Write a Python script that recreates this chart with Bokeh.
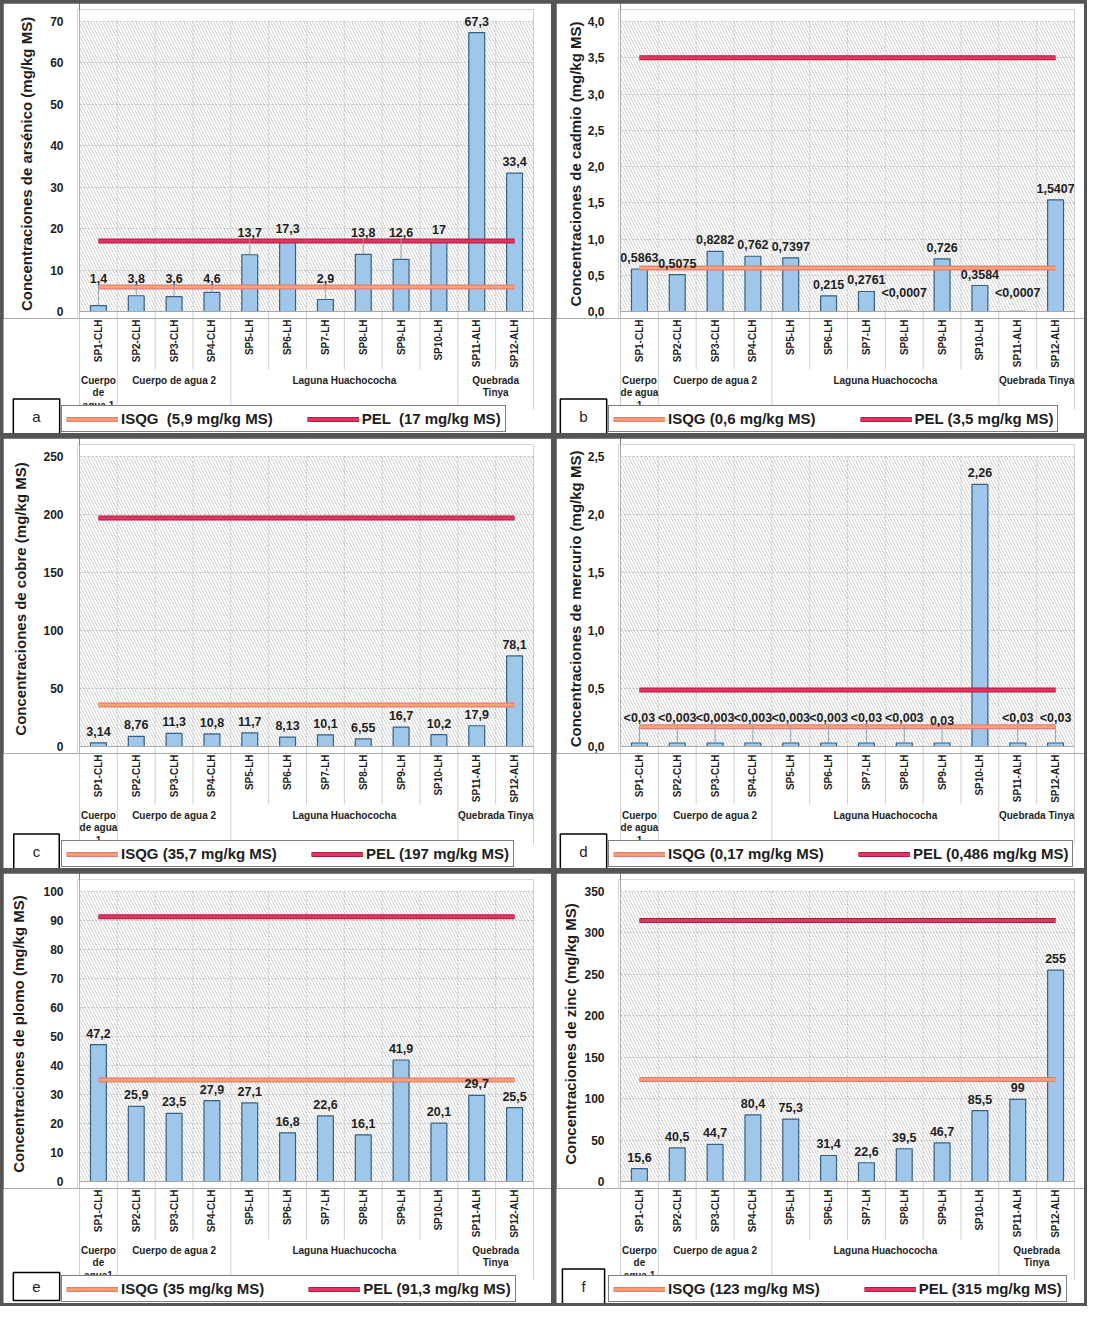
import math
from bokeh.plotting import figure
from bokeh.models import (Range1d, FixedTicker, Label, Legend, LegendItem, ColumnDataSource,
                          Span, Grid)
from bokeh.layouts import column, row
from bokeh.embed import file_html
from bokeh.resources import INLINE
from bokeh.core.properties import value

FONT = "Liberation Sans"

SAMPLES = ["SP1-CLH", "SP2-CLH", "SP3-CLH", "SP4-CLH", "SP5-LH", "SP6-LH",
           "SP7-LH", "SP8-LH", "SP9-LH", "SP10-LH", "SP11-ALH", "SP12-ALH"]
GROUP_SIZES = [1, 3, 6, 2]

# (a) arsénico
AS_VALUES = [1.4, 3.8, 3.6, 4.6, 13.7, 17.3, 2.9, 13.8, 12.6, 17, 67.3, 33.4]
AS_LABELS = ["1,4", "3,8", "3,6", "4,6", "13,7", "17,3", "2,9", "13,8", "12,6", "17", "67,3", "33,4"]
AS_ISQG, AS_PEL = 5.9, 17
AS_TICKS = [0, 10, 20, 30, 40, 50, 60, 70]
AS_TICK_LABELS = ["0", "10", "20", "30", "40", "50", "60", "70"]
AS_GROUPS = ["Cuerpo\nde\nagua 1", "Cuerpo de agua 2", "Laguna Huachococha", "Quebrada\nTinya"]

# (b) cadmio
CD_VALUES = [0.5863, 0.5075, 0.8282, 0.762, 0.7397, 0.215, 0.2761, 0.0007, 0.726, 0.3584, 0.0007, 1.5407]
CD_LABELS = ["0,5863", "0,5075", "0,8282", "0,762", "0,7397", "0,215", "0,2761", "<0,0007",
             "0,726", "0,3584", "<0,0007", "1,5407"]
CD_ISQG, CD_PEL = 0.6, 3.5
CD_TICKS = [0, 0.5, 1.0, 1.5, 2.0, 2.5, 3.0, 3.5, 4.0]
CD_TICK_LABELS = ["0,0", "0,5", "1,0", "1,5", "2,0", "2,5", "3,0", "3,5", "4,0"]
CD_GROUPS = ["Cuerpo\nde agua\n1", "Cuerpo de agua 2", "Laguna Huachococha", "Quebrada Tinya"]

# (c) cobre
CU_VALUES = [3.14, 8.76, 11.3, 10.8, 11.7, 8.13, 10.1, 6.55, 16.7, 10.2, 17.9, 78.1]
CU_LABELS = ["3,14", "8,76", "11,3", "10,8", "11,7", "8,13", "10,1", "6,55", "16,7", "10,2", "17,9", "78,1"]
CU_ISQG, CU_PEL = 35.7, 197
CU_TICKS = [0, 50, 100, 150, 200, 250]
CU_TICK_LABELS = ["0", "50", "100", "150", "200", "250"]
CU_GROUPS = ["Cuerpo\nde agua\n1", "Cuerpo de agua 2", "Laguna Huachococha", "Quebrada Tinya"]

# (d) mercurio
HG_VALUES = [0.03, 0.03, 0.03, 0.03, 0.03, 0.03, 0.03, 0.03, 0.03, 2.26, 0.03, 0.03]
HG_LABELS = ["<0,03", "<0,003", "<0,003", "<0,003", "<0,003", "<0,003", "<0,03", "<0,003",
             "0,03", "2,26", "<0,03", "<0,03"]
HG_ISQG, HG_PEL = 0.17, 0.486
HG_TICKS = [0, 0.5, 1.0, 1.5, 2.0, 2.5]
HG_TICK_LABELS = ["0,0", "0,5", "1,0", "1,5", "2,0", "2,5"]
HG_GROUPS = ["Cuerpo\nde agua\n1", "Cuerpo de agua 2", "Laguna Huachococha", "Quebrada Tinya"]

# (e) plomo
PB_VALUES = [47.2, 25.9, 23.5, 27.9, 27.1, 16.8, 22.6, 16.1, 41.9, 20.1, 29.7, 25.5]
PB_LABELS = ["47,2", "25,9", "23,5", "27,9", "27,1", "16,8", "22,6", "16,1", "41,9", "20,1", "29,7", "25,5"]
PB_ISQG, PB_PEL = 35, 91.3
PB_TICKS = [0, 10, 20, 30, 40, 50, 60, 70, 80, 90, 100]
PB_TICK_LABELS = ["0", "10", "20", "30", "40", "50", "60", "70", "80", "90", "100"]
PB_GROUPS = ["Cuerpo\nde\nagua1", "Cuerpo de agua 2", "Laguna Huachucocha", "Quebrada\nTinya"]

# (f) zinc
ZN_VALUES = [15.6, 40.5, 44.7, 80.4, 75.3, 31.4, 22.6, 39.5, 46.7, 85.5, 99, 255]
ZN_LABELS = ["15,6", "40,5", "44,7", "80,4", "75,3", "31,4", "22,6", "39,5", "46,7", "85,5", "99", "255"]
ZN_ISQG, ZN_PEL = 123, 315
ZN_TICKS = [0, 50, 100, 150, 200, 250, 300, 350]
ZN_TICK_LABELS = ["0", "50", "100", "150", "200", "250", "300", "350"]
ZN_GROUPS = ["Cuerpo\nde\nagua 1", "Cuerpo de agua 2", "Laguna Huachococha", "Quebrada\nTinya"]

# ---- layout / style constants ----
W_LEFT, W_RIGHT, H = 548, 528, 430
BORDER_TOP = 6
TOP_PAD, DATA_PX, BELOW_PX = 12, 290, 7
TOP_H = BORDER_TOP + TOP_PAD + DATA_PX + BELOW_PX
BOT_H = H - TOP_H
SEP_SHORT, SEP_LONG = 58, 98
LABEL_OFF, LABEL_H = 7, 13
BAR_FILL = "#9fc7e9"
BAR_LINE = "#35607f"
GRID_COL = "#c2c2c2"
SEP_COL = "#cfcfcf"
TXT = "#1e1e1e"
ISQG_STYLE = [dict(line_color="#e87a7c", line_width=5), dict(line_color="#f5a66c", line_width=2.5)]
PEL_STYLE = [dict(line_color="#b21b46", line_width=5), dict(line_color="#e0355f", line_width=3)]


def bare(fig):
    fig.outline_line_color = None
    fig.background_fill_color = "white"
    fig.border_fill_color = "white"
    fig.xgrid.visible = False
    fig.ygrid.visible = False


def make_panel(letter, ytitle, values, labels, ticks, tick_labels, isqg, pel,
               isqg_text, pel_text, groups, W, left, right, legend_x,
               floor=None, lift=False, leaders=False, spacing=34, title_standoff=12):
    n = len(SAMPLES)
    xs = list(range(1, n + 1))
    ymax = ticks[-1]
    u = ymax / DATA_PX
    cw = (W - left - right) / n
    yr = Range1d(-BELOW_PX * u, ymax + TOP_PAD * u)

    # ---------- narrow figure carrying the y axis ----------
    a = figure(width=left, height=TOP_H, output_backend="svg", toolbar_location=None,
               x_range=Range1d(0, 1), y_range=yr, x_axis_location=None,
               min_border_left=left - 2, min_border_right=0,
               min_border_top=BORDER_TOP, min_border_bottom=0)
    bare(a)
    ax = a.yaxis[0]
    ax.ticker = FixedTicker(ticks=ticks)
    ax.major_label_overrides = {t: s for t, s in zip(ticks, tick_labels)}
    ax.axis_line_color = None
    ax.major_tick_line_color = None
    ax.minor_tick_line_color = None
    ax.major_label_text_font = FONT
    ax.major_label_text_font_style = "bold"
    ax.major_label_text_font_size = "12px"
    ax.major_label_text_color = TXT
    ax.major_label_standoff = 8
    ax.axis_label = ytitle
    ax.axis_label_text_font = FONT
    ax.axis_label_text_font_style = "bold"
    ax.axis_label_text_font_size = "15px"
    ax.axis_label_text_color = TXT
    ax.axis_label_standoff = title_standoff

    # ---------- upper figure: data area ----------
    p = figure(width=W - left, height=TOP_H, output_backend="svg", toolbar_location=None,
               x_range=Range1d(0.5, n + 0.5), y_range=yr,
               x_axis_location=None, y_axis_location=None,
               min_border_left=0, min_border_right=right,
               min_border_top=BORDER_TOP, min_border_bottom=0)
    bare(p)
    p.extra_y_ranges = {"px": Range1d(-BELOW_PX, DATA_PX + TOP_PAD)}
    p.add_layout(Grid(dimension=1, ticker=FixedTicker(ticks=ticks),
                      grid_line_color=GRID_COL, grid_line_dash="2 2"))

    p.quad(left=[0.5], right=[n + 0.5], bottom=[0], top=[ymax], fill_alpha=0,
           line_color=None, hatch_pattern="\\", hatch_color="#b0b0b0",
           hatch_scale=6, hatch_weight=0.6)

    edges = [i + 0.5 for i in range(n + 1)]
    gedges = [0.5]
    for s in GROUP_SIZES:
        gedges.append(gedges[-1] + s)
    inner = [e for e in edges if e not in gedges]

    p.segment(x0=edges, y0=[0] * len(edges), x1=edges, y1=[ymax] * len(edges),
              line_color=GRID_COL, line_dash="2 2", line_width=1)
    p.segment(x0=edges, y0=[0] * len(edges), x1=edges, y1=[-BELOW_PX] * len(edges),
              y_range_name="px", line_color=SEP_COL, line_width=1)
    p.add_layout(Span(location=0, dimension="width", line_color="#a9a9a9", line_width=1))

    p.vbar(x=xs, top=values, width=0.42, fill_color=BAR_FILL, line_color=BAR_LINE, line_width=1.2)

    for st in ISQG_STYLE:
        p.line(xs, [isqg] * n, **st)
    for st in PEL_STYLE:
        p.line(xs, [pel] * n, **st)

    # data-label anchors (label bottom sits LABEL_OFF px above the anchor)
    base = []
    for v in values:
        b = max(v, floor) if floor is not None else v
        if lift:
            bot = b / u + LABEL_OFF
            top = bot + LABEL_H
            for t in (isqg, pel):
                tp = t / u
                if bot - 3 <= tp <= top + 2:
                    b = (tp + 4 - LABEL_OFF) * u
        base.append(b)
    if leaders:
        sel = [(x, v, b) for x, v, b in zip(xs, values, base) if b > v + 2 * u]
        p.segment(x0=[s[0] for s in sel], y0=[s[1] for s in sel],
                  x1=[s[0] for s in sel], y1=[s[2] + (LABEL_OFF - 1) * u for s in sel],
                  line_color="#8fa3ad", line_width=1)
    src = ColumnDataSource(dict(x=xs, y=base, text=labels))
    p.text(x="x", y="y", text="text", source=src, text_align="center", text_baseline="bottom",
           y_offset=-LABEL_OFF, text_font=value(FONT), text_font_style="bold",
           text_font_size="12.5px", text_color=TXT)

    # ---------- lower figure: category labels + legend ----------
    q = figure(width=W, height=BOT_H, output_backend="svg", toolbar_location=None,
               x_range=Range1d(0.5 - left / cw, n + 0.5 + right / cw),
               y_range=Range1d(-BELOW_PX - BOT_H, -BELOW_PX),
               x_axis_location=None, y_axis_location=None,
               min_border_left=0, min_border_right=0, min_border_top=0, min_border_bottom=0)
    bare(q)

    q.segment(x0=inner, y0=[-BELOW_PX] * len(inner), x1=inner, y1=[-SEP_SHORT] * len(inner),
              line_color=SEP_COL, line_width=1)
    q.segment(x0=gedges, y0=[-BELOW_PX] * len(gedges), x1=gedges, y1=[-SEP_LONG] * len(gedges),
              line_color=SEP_COL, line_width=1)

    q.text(x=xs, y=[-BELOW_PX - 1] * n, text=SAMPLES, angle=math.pi / 2,
           text_align="right", text_baseline="middle", text_font=value(FONT),
           text_font_style="bold", text_font_size="10px", text_color=TXT)
    centers = [(gedges[i] + gedges[i + 1]) / 2 for i in range(len(GROUP_SIZES))]
    q.text(x=centers, y=[-63] * len(centers), text=groups,
           text_align="center", text_baseline="top", text_font=value(FONT),
           text_font_style="bold", text_font_size="10px", text_line_height=1.15,
           text_color=TXT)

    nan = float("nan")
    ri = [q.line(x=[nan], y=[nan], **st) for st in ISQG_STYLE]
    rp = [q.line(x=[nan], y=[nan], **st) for st in PEL_STYLE]
    leg = Legend(items=[LegendItem(label=isqg_text, renderers=ri),
                        LegendItem(label=pel_text, renderers=rp)],
                 location=(left + legend_x, 1), orientation="horizontal",
                 glyph_width=52, glyph_height=12, label_standoff=3, spacing=spacing,
                 padding=4, margin=0, border_line_color="black", border_line_width=1.5,
                 background_fill_color="white", background_fill_alpha=1,
                 label_text_font=FONT, label_text_font_style="bold",
                 label_text_font_size="15px", label_height=14, label_text_color=TXT)
    q.add_layout(leg)

    q.add_layout(Label(x=left + legend_x - 25, y=17, x_units="screen", y_units="screen",
                       text=letter, text_align="center", text_baseline="middle",
                       text_font=FONT, text_font_size="15px", text_color=TXT,
                       border_line_color="black", border_line_width=1.5,
                       background_fill_color="white", padding=(19, 9)))
    return column(row(a, p, spacing=0), q, spacing=0)


pa = make_panel("a", "Concentraciones de arsénico (mg/kg MS)", AS_VALUES, AS_LABELS,
                AS_TICKS, AS_TICK_LABELS, AS_ISQG, AS_PEL,
                "ISQG  (5,9 mg/kg MS)", "PEL  (17 mg/kg MS)", AS_GROUPS, W_LEFT, 76, 18, -18,
                lift=True, leaders=True, title_standoff=12)
pb = make_panel("b", "Concentraciones de cadmio (mg/kg MS)", CD_VALUES, CD_LABELS,
                CD_TICKS, CD_TICK_LABELS, CD_ISQG, CD_PEL,
                "ISQG (0,6 mg/kg MS)", "PEL (3,5 mg/kg MS)", CD_GROUPS, W_RIGHT, 64, 10, -12,
                floor=0.06, spacing=44, title_standoff=1)
pc = make_panel("c", "Concentraciones de cobre (mg/kg MS)", CU_VALUES, CU_LABELS,
                CU_TICKS, CU_TICK_LABELS, CU_ISQG, CU_PEL,
                "ISQG (35,7 mg/kg MS)", "PEL (197 mg/kg MS)", CU_GROUPS, W_LEFT, 76, 18, -18,
                title_standoff=11)
pd = make_panel("d", "Concentraciones de mercurio (mg/kg MS)", HG_VALUES, HG_LABELS,
                HG_TICKS, HG_TICK_LABELS, HG_ISQG, HG_PEL,
                "ISQG (0,17 mg/kg MS)", "PEL (0,486 mg/kg MS)", HG_GROUPS, W_RIGHT, 64, 10, -12,
                floor=0.125, leaders=True, title_standoff=1)
pe = make_panel("e", "Concentraciones de plomo (mg/kg MS)", PB_VALUES, PB_LABELS,
                PB_TICKS, PB_TICK_LABELS, PB_ISQG, PB_PEL,
                "ISQG (35 mg/kg MS)", "PEL (91,3 mg/kg MS)", PB_GROUPS, W_LEFT, 76, 18, -18,
                spacing=44, title_standoff=13)
pf = make_panel("f", "Concentraciones de zinc (mg/kg MS)", ZN_VALUES, ZN_LABELS,
                ZN_TICKS, ZN_TICK_LABELS, ZN_ISQG, ZN_PEL,
                "ISQG (123 mg/kg MS)", "PEL (315 mg/kg MS)", ZN_GROUPS, W_RIGHT, 64, 10, -12,
                spacing=44, title_standoff=2)

page = column(row(pa, pb, spacing=5), row(pc, pd, spacing=5), row(pe, pf, spacing=5), spacing=5)
page.styles = {"background-color": "#555555", "padding": "3px"}

open("out.html", "w").write(file_html(page, INLINE))
